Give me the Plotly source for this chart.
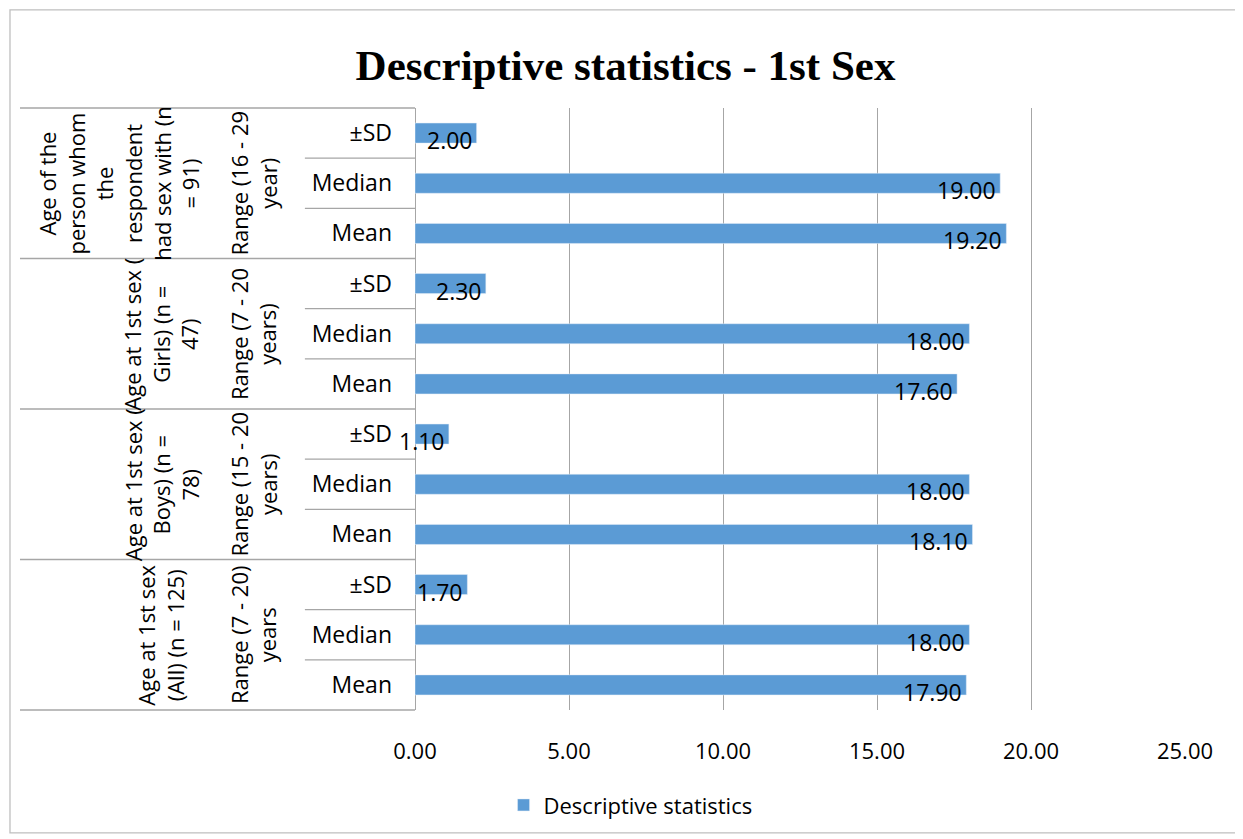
import plotly.graph_objects as go

groups = [
    "All (n = 125)",
    "Boys (n = 78)",
    "Girls (n = 47)",
    "Person (n = 91)",
]
group_labels = [
    "Age at 1st sex<br>(All) (n = 125)",
    "Age at 1st sex (<br>Boys) (n =<br>78)",
    "Age at 1st sex (<br>Girls) (n =<br>47)",
    "Age of the<br>person whom<br>the<br>respondent<br>had sex with (n<br>= 91)",
]
range_labels = [
    "Range (7 - 20)<br>years",
    "Range (15 - 20<br>years)",
    "Range (7 - 20<br>years)",
    "Range (16 - 29<br>year)",
]
stats = ["Mean", "Median", "±SD"]
values = {
    "All (n = 125)": [17.90, 18.00, 1.70],
    "Boys (n = 78)": [18.10, 18.00, 1.10],
    "Girls (n = 47)": [17.60, 18.00, 2.30],
    "Person (n = 91)": [19.20, 19.00, 2.00],
}
x_ticks = [0, 5, 10, 15, 20, 25]

cats, xs, tick_text = [], [], []
for g in groups:
    for s, v in zip(stats, values[g]):
        cats.append(f"{g}|{s}")
        xs.append(v)
        tick_text.append(s)

BAR = "#5B9BD5"
GRID = "#A6A6A6"
FONT = "Open Sans, Lato, Liberation Sans, sans-serif"
FS = 23

fig = go.Figure()
fig.add_trace(go.Bar(
    x=xs, y=cats, orientation="h", marker_color=BAR,
    name="Descriptive statistics", showlegend=True,
))

annotations = []
for c, v in zip(cats, xs):
    annotations.append(dict(
        x=v, y=c, xref="x", yref="y", text=f"{v:.2f}", showarrow=False,
        xanchor="right", yanchor="middle", xshift=-2, yshift=-7,
        font=dict(size=FS, color="#000000", family=FONT),
    ))

# group and range labels (rotated)
group_x = [-0.33, -0.33, -0.33, -0.385]
for i, g in enumerate(groups):
    mid = f"{g}|Median"
    annotations.append(dict(
        x=group_x[i], y=mid, xref="paper", yref="y", text=group_labels[i],
        showarrow=False, textangle=-90, xanchor="center", yanchor="middle",
        font=dict(size=FS - 1, color="#000000", family=FONT),
    ))
    annotations.append(dict(
        x=-0.21, y=mid, xref="paper", yref="y", text=range_labels[i],
        showarrow=False, textangle=-90, xanchor="center", yanchor="middle",
        font=dict(size=FS - 1, color="#000000", family=FONT),
    ))

shapes = []
# group separators
for k in range(len(groups) + 1):
    yp = k / len(groups)
    shapes.append(dict(type="line", xref="paper", yref="paper",
                       x0=-0.513, x1=0, y0=yp, y1=yp,
                       line=dict(color=GRID, width=1.3)))
# stat separators inside groups
n = len(cats)
for k in range(n + 1):
    if k % 3 == 0:
        continue
    yp = k / n
    shapes.append(dict(type="line", xref="paper", yref="paper",
                       x0=-0.143, x1=0, y0=yp, y1=yp,
                       line=dict(color=GRID, width=1.3)))
# chart border
shapes.append(dict(type="rect", xref="paper", yref="paper",
                   x0=-0.526, x1=1.069, y0=-0.204, y1=1.163,
                   line=dict(color="#BFBFBF", width=1.3), fillcolor="rgba(0,0,0,0)",
                   layer="above"))

fig.update_layout(
    width=1235, height=831,
    margin=dict(l=407, r=58, t=100, b=129),
    paper_bgcolor="white", plot_bgcolor="white",
    title=dict(text="<b>Descriptive statistics - 1st Sex</b>", x=0.5, xanchor="center",
               y=0.932, yanchor="middle",
               font=dict(family="Liberation Serif, Times New Roman, serif", size=43, color="#000000")),
    bargap=0.6,
    showlegend=True,
    legend=dict(orientation="h", x=0.115, xanchor="left", y=-0.158, yanchor="middle",
                font=dict(size=FS - 1, family=FONT, color="#000000")),
    annotations=annotations,
    shapes=shapes,
    xaxis=dict(range=[0, 25], tickvals=x_ticks, tickformat=".2f",
               showgrid=True, gridcolor=GRID, gridwidth=1.3,
               zeroline=True, zerolinecolor=GRID, zerolinewidth=1.3,
               showline=False, ticks="", ticklabelstandoff=26,
               tickfont=dict(size=FS - 1, family=FONT, color="#000000")),
    yaxis=dict(type="category", categoryorder="array", categoryarray=cats,
               tickvals=cats, ticktext=tick_text, showgrid=False,
               showline=False, ticks="", ticklabelstandoff=22,
               range=[-0.5, n - 0.5],
               tickfont=dict(size=FS, family=FONT, color="#000000")),
)

fig.write_html("out.html")
